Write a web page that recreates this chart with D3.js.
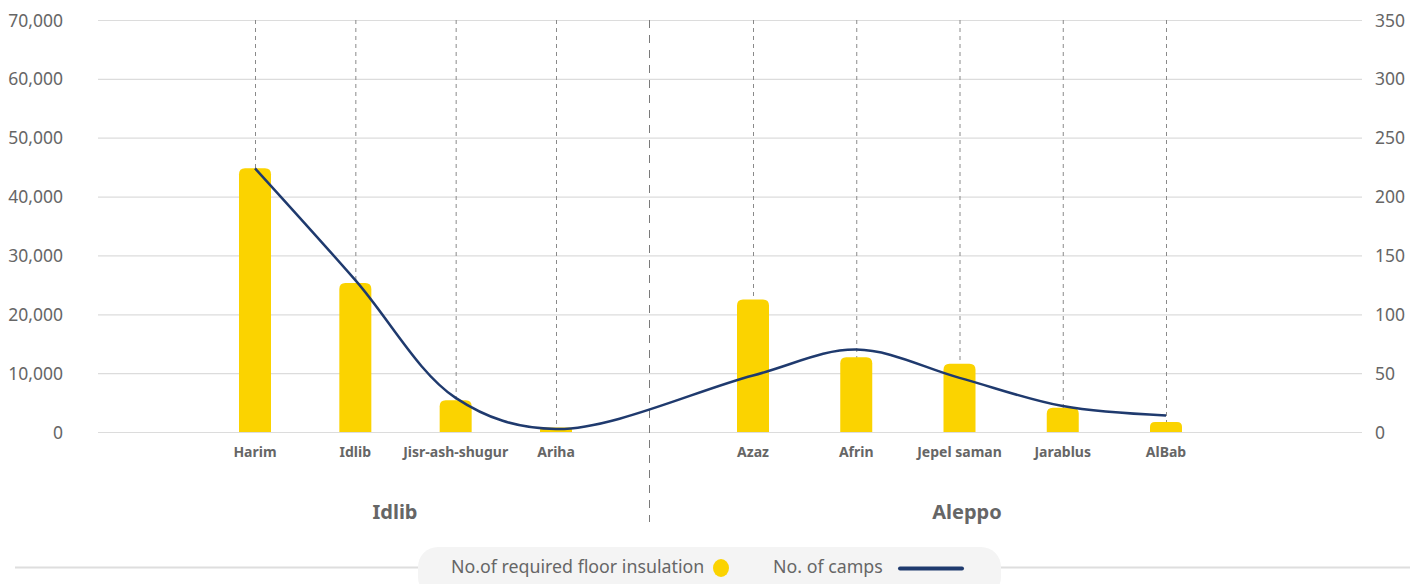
<!DOCTYPE html>
<html>
<head>
<meta charset="utf-8">
<script src="https://cdn.jsdelivr.net/npm/d3@7"></script>
<style>
  html, body { margin: 0; padding: 0; background: #fff; }
  svg { display: block; }
  text { font-family: "Noto Sans", sans-serif; }
</style>
</head>
<body>
<svg id="chart" width="1424" height="584"></svg>
<script>
// ========= Data
const groups = ["Idlib", "Aleppo"];
const idlibCats = ["Harim", "Idlib", "Jisr-ash-shugur", "Ariha"];
const aleppoCats = ["Azaz", "Afrin", "Jepel saman", "Jarablus", "AlBab"];
const insulation = [44800, 25300, 5400, 750, 22500, 12700, 11600, 4100, 1700];
const camps = [224, 129, 29, 2.5, 48, 70, 46, 22, 14];
const leftTicks = [0, 10000, 20000, 30000, 40000, 50000, 60000, 70000];
const rightTicks = [0, 50, 100, 150, 200, 250, 300, 350];

const categories = idlibCats.concat(aleppoCats);
const rows = categories.map((c, i) => ({
  cat: c,
  group: i < idlibCats.length ? "Idlib" : "Aleppo",
  bar: insulation[i],
  camps: camps[i]
}));

// ========= Layout
const svg = d3.select("#chart");
const plotL = 98, plotR = 1362, plotT = 20, plotB = 432;

const yL = d3.scaleLinear().domain([0, 70000]).range([plotB, plotT]);
const yR = d3.scaleLinear().domain([0, 350]).range([plotB, plotT]);

// group bands, then a point scale inside each
const xGroup = d3.scaleOrdinal().domain(groups).range([[141, 649], [649, 1285]]);
const xIdlib = d3.scalePoint().domain(idlibCats).range([255, 556]);
const xAleppo = d3.scalePoint().domain(aleppoCats).range([753, 1166]);
const x = c => idlibCats.includes(c) ? xIdlib(c) : xAleppo(c);

const grey = "#666";
const barW = 32;

// ========= Grid
svg.append("g")
  .selectAll("line")
  .data(leftTicks)
  .join("line")
  .attr("x1", plotL).attr("x2", plotR)
  .attr("y1", d => yL(d) + 0.5).attr("y2", d => yL(d) + 0.5)
  .attr("stroke", "#dcdcdc").attr("stroke-width", 1.2);

// left axis
const axisL = svg.append("g")
  .attr("transform", `translate(63,0)`)
  .call(d3.axisLeft(yL).tickValues(leftTicks).tickFormat(d3.format(",")).tickSize(0).tickPadding(0));
axisL.select(".domain").remove();
axisL.selectAll("text")
  .attr("font-family", "Noto Sans, sans-serif")
  .attr("font-size", 17.5).attr("fill", grey).attr("dy", "0.35em");

// right axis
const axisR = svg.append("g")
  .attr("transform", `translate(1375,0)`)
  .call(d3.axisRight(yR).tickValues(rightTicks).tickSize(0).tickPadding(0));
axisR.select(".domain").remove();
axisR.selectAll("text")
  .attr("font-family", "Noto Sans, sans-serif")
  .attr("font-size", 17.5).attr("fill", grey).attr("dy", "0.35em");

// ========= Dashed category guides
svg.append("g")
  .selectAll("line")
  .data(rows)
  .join("line")
  .attr("x1", d => x(d.cat) + 0.5).attr("x2", d => x(d.cat) + 0.5)
  .attr("y1", plotT).attr("y2", plotB)
  .attr("stroke", "#8a8a8a").attr("stroke-width", 1)
  .attr("stroke-dasharray", "4,4");

// group divider
const divX = xGroup("Idlib")[1];
svg.append("line")
  .attr("x1", divX + 0.5).attr("x2", divX + 0.5)
  .attr("y1", plotT).attr("y2", 522)
  .attr("stroke", "#7a7a7a").attr("stroke-width", 1)
  .attr("stroke-dasharray", "8,7");

// ========= Bars (rounded top)
function barPath(cx, top, bottom, w, r) {
  const x0 = cx - w / 2, x1 = cx + w / 2;
  const h = bottom - top;
  const rr = Math.min(r, h / 2, w / 2);
  return `M${x0},${bottom}V${top + rr}Q${x0},${top} ${x0 + rr},${top}H${x1 - rr}Q${x1},${top} ${x1},${top + rr}V${bottom}Z`;
}
svg.append("g")
  .selectAll("path")
  .data(rows)
  .join("path")
  .attr("d", d => barPath(x(d.cat), yL(d.bar), yL(0), barW, 6))
  .attr("fill", "#FBD300");

// ========= Line
const line = d3.line()
  .x(d => x(d.cat))
  .y(d => yR(d.camps))
  .curve(d3.curveCatmullRom.alpha(0.5));
svg.append("path")
  .datum(rows)
  .attr("d", line)
  .attr("fill", "none")
  .attr("stroke", "#1F3A6E")
  .attr("stroke-width", 2.5);

// ========= Category labels
svg.append("g")
  .selectAll("text")
  .data(rows)
  .join("text")
  .attr("x", d => x(d.cat))
  .attr("y", 457)
  .attr("text-anchor", "middle")
  .attr("font-family", "Open Sans, sans-serif")
  .attr("font-weight", 700)
  .attr("font-size", 14)
  .attr("fill", grey)
  .text(d => d.cat);

// group labels
svg.append("g")
  .selectAll("text")
  .data(groups)
  .join("text")
  .attr("x", d => (xGroup(d)[0] + xGroup(d)[1]) / 2)
  .attr("y", 519)
  .attr("text-anchor", "middle")
  .attr("font-family", "Open Sans, sans-serif")
  .attr("font-weight", 700)
  .attr("font-size", 20)
  .attr("fill", grey)
  .text(d => d);

// ========= Legend
svg.append("line")
  .attr("x1", 15).attr("x2", 1410)
  .attr("y1", 567.5).attr("y2", 567.5)
  .attr("stroke", "#dedede").attr("stroke-width", 2);

const leg = svg.append("g");
leg.append("rect")
  .attr("x", 418).attr("y", 547).attr("width", 583).attr("height", 50)
  .attr("rx", 20).attr("fill", "#f4f4f4");
leg.append("text")
  .attr("x", 451).attr("y", 573)
  .attr("font-size", 17.8).attr("fill", grey)
  .text("No.of required floor insulation");
leg.append("ellipse")
  .attr("cx", 721).attr("cy", 568).attr("rx", 8).attr("ry", 9)
  .attr("fill", "#FBD300");
leg.append("text")
  .attr("x", 773).attr("y", 573)
  .attr("font-size", 17.8).attr("fill", grey)
  .text("No. of camps");
leg.append("line")
  .attr("x1", 900).attr("x2", 962)
  .attr("y1", 568.5).attr("y2", 568.5)
  .attr("stroke", "#1F3A6E").attr("stroke-width", 4)
  .attr("stroke-linecap", "round");
</script>
</body>
</html>
